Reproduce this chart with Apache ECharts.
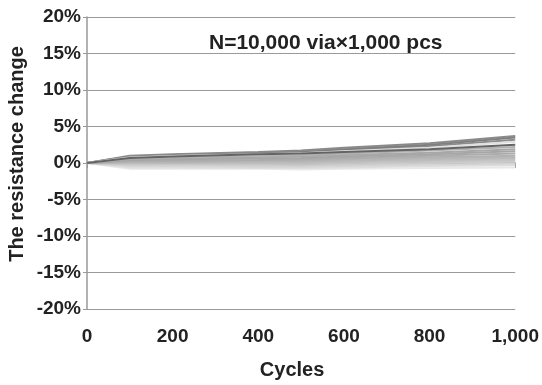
<!DOCTYPE html>
<html>
<head>
<meta charset="utf-8">
<script src="https://cdn.jsdelivr.net/npm/echarts@6/dist/echarts.min.js"></script>
<style>
  html, body { margin: 0; padding: 0; background: #fff; }
  #chart { width: 542px; height: 385px; }
</style>
</head>
<body>
<div id="chart"></div>
<script>
// Cycles sampled along the x axis
const cycles = [0, 100, 200, 400, 500, 600, 800, 1000];

// Resistance change (%) per sample, one row per via chain, drawn bottom-up
const chains = [
  [0, -0.8, -0.8, -0.8, -0.9, -0.8, -0.7, -0.6],
  [0, -0.6, -0.6, -0.7, -0.7, -0.6, -0.4, -0.3],
  [0, -0.4, -0.4, -0.5, -0.5, -0.4, -0.2, -0.1],
  [0, -0.2, -0.2, -0.3, -0.3, -0.2, 0.0, 0.2],
  [0, -0.1, -0.1, -0.1, -0.2, 0.0, 0.2, 0.4],
  [0, 0.0, 0.0, 0.0, 0.0, 0.2, 0.4, 0.6],
  [0, 0.1, 0.1, 0.2, 0.2, 0.3, 0.6, 0.8],
  [0, 0.2, 0.2, 0.3, 0.3, 0.5, 0.8, 1.0],
  [0, 0.3, 0.3, 0.4, 0.5, 0.7, 1.0, 1.3],
  [0, 0.4, 0.5, 0.6, 0.7, 0.9, 1.2, 1.6],
  [0, 0.5, 0.6, 0.8, 0.9, 1.1, 1.4, 1.9],
  [0, 0.6, 0.8, 1.0, 1.1, 1.3, 1.7, 2.2],
  [0, 0.8, 1.0, 1.3, 1.5, 1.8, 2.3, 3.2],
  [0, 0.9, 1.1, 1.4, 1.6, 1.9, 2.5, 3.5],
  [0, 1.0, 1.2, 1.5, 1.7, 2.1, 2.7, 3.7],
  [0, 0.75, 0.95, 1.2, 1.35, 1.6, 2.1, 2.9],
  [0, 0.7, 0.9, 1.2, 1.3, 1.5, 1.9, 2.5]
];

const greys = [
  "#e8e8e8", "#dddddd", "#d4d4d4", "#cccccc", "#c4c4c4", "#bdbdbd", "#b8b8b8", "#b2b2b2",
  "#acacac", "#a6a6a6", "#a8a8a8", "#b0b0b0", "#8c8c8c", "#7e7e7e", "#8a8a8a", "#e0e0e0", "#646464"
];

const yTicks = [-20, -15, -10, -5, 0, 5, 10, 15, 20];
const xTicks = [0, 200, 400, 600, 800, 1000];

const FONT = "'Liberation Sans', Arial, sans-serif";
const labelFont = { fontFamily: FONT, fontWeight: "bold", color: "#222" };

const chart = echarts.init(document.getElementById("chart"));

chart.setOption({
  animation: false,
  grid: { left: 87, right: 22, top: 17, bottom: 72 },
  graphic: [
    {
      type: "text",
      left: 209,
      top: 33,
      style: { text: "N=10,000 via\u00d71,000 pcs", font: "bold 21px " + FONT, fill: "#222" }
    },
    {
      type: "text",
      x: 17,
      y: 154,
      rotation: Math.PI / 2,
      style: {
        text: "The resistance change",
        font: "bold 20px " + FONT,
        fill: "#222",
        align: "center",
        verticalAlign: "middle"
      }
    }
  ],
  xAxis: {
    type: "value",
    min: xTicks[0],
    max: xTicks[xTicks.length - 1],
    interval: 200,
    name: "Cycles",
    nameLocation: "middle",
    nameGap: 51,
    nameTextStyle: { ...labelFont, fontSize: 20, padding: [0, 18, 0, 0] },
    axisLine: { lineStyle: { color: "#999", width: 1.5 } },
    axisTick: { show: true, length: 5, lineStyle: { color: "#999" } },
    splitLine: { show: false },
    axisLabel: {
      ...labelFont, fontSize: 19, margin: 18,
      formatter: (v) => v.toLocaleString("en-US")
    }
  },
  yAxis: {
    type: "value",
    min: yTicks[0],
    max: yTicks[yTicks.length - 1],
    interval: 5,
    axisLine: { show: true, lineStyle: { color: "#999", width: 1.5 } },
    axisTick: { show: true, length: 4, lineStyle: { color: "#999" } },
    splitLine: { lineStyle: { color: "#9a9a9a", width: 1.2 } },
    axisLabel: { ...labelFont, fontSize: 19, margin: 6, formatter: (v) => v + "%" }
  },
  series: chains.map((vals, i) => ({
    type: "line",
    data: cycles.map((c, j) => [c, vals[j]]),
    symbol: "none",
    lineStyle: { color: greys[i], width: 2 },
    z: 2 + i
  }))
});
</script>
</body>
</html>
